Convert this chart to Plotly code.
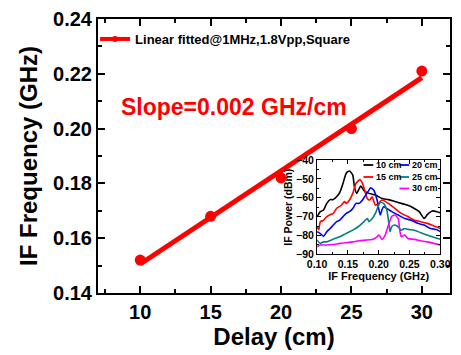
import numpy as np
import plotly.graph_objects as go

# ---------------- main data ----------------
delay_cm = [10, 15, 20, 25, 30]
if_freq_ghz = [0.152, 0.168, 0.182, 0.200, 0.221]
legend_label = "Linear fitted@1MHz,1.8Vpp,Square"
slope_text = "Slope=0.002 GHz/cm"

main_xticks = [10, 15, 20, 25, 30]
main_yticks = [0.14, 0.16, 0.18, 0.20, 0.22, 0.24]

# ---------------- inset data (IF spectra) ----------------
f_10 = [0.100, 0.1053, 0.1105, 0.1158, 0.1211, 0.1263, 0.1316, 0.1368, 0.1421, 0.1474, 0.1526,
        0.1579, 0.1605, 0.1642, 0.1710, 0.1763, 0.1842, 0.1947, 0.2053, 0.2158, 0.2263, 0.2368,
        0.2474, 0.2579, 0.2658, 0.2737, 0.2789, 0.2868, 0.2947, 0.300]
p_10 = [-70.0, -67.4, -66.5, -63.0, -61.0, -61.0, -59.5, -57.3, -52.4, -47.0, -45.8,
        -48.0, -54.0, -57.7, -53.8, -56.3, -57.7, -58.6, -60.4, -61.0, -62.0, -63.0,
        -64.0, -65.7, -67.4, -71.0, -69.0, -67.0, -67.4, -68.0]

f_15 = [0.100, 0.1026, 0.1053, 0.1105, 0.1158, 0.1211, 0.1263, 0.1316, 0.1395, 0.1447, 0.1474,
        0.1526, 0.1579, 0.1632, 0.1684, 0.1695, 0.1737, 0.1779, 0.1816, 0.1853, 0.1895, 0.1921,
        0.1947, 0.2000, 0.2053, 0.2158, 0.2263, 0.2368, 0.2474, 0.2579, 0.2684, 0.2789, 0.2895, 0.300]
p_15 = [-75.4, -77.0, -72.7, -72.0, -70.0, -69.0, -68.3, -65.7, -64.0, -62.0, -63.0,
        -61.2, -57.7, -52.4, -50.6, -50.3, -52.4, -56.8, -60.4, -61.2, -59.5, -62.0,
        -64.0, -63.0, -61.2, -63.0, -65.7, -68.3, -70.0, -72.0, -72.7, -73.6, -75.0, -76.3]

f_20 = [0.100, 0.1053, 0.1105, 0.1158, 0.1211, 0.1263, 0.1316, 0.1368, 0.1421, 0.1474, 0.1526,
        0.1579, 0.1632, 0.1684, 0.1737, 0.1789, 0.1842, 0.1868, 0.1921, 0.1974, 0.2000, 0.2026,
        0.2053, 0.2079, 0.2132, 0.2211, 0.2316, 0.2421, 0.2526, 0.2632, 0.2737, 0.2842, 0.2947, 0.300]
p_20 = [-78.0, -79.0, -80.4, -78.0, -76.3, -74.5, -72.7, -71.9, -70.0, -68.3, -67.4,
        -65.7, -63.0, -63.0, -61.2, -58.6, -56.0, -54.7, -56.0, -61.2, -65.7, -69.2,
        -66.5, -64.8, -65.7, -67.4, -69.2, -71.0, -71.9, -73.6, -74.5, -76.3, -77.0, -78.0]

f_25 = [0.100, 0.1053, 0.1105, 0.1158, 0.1263, 0.1368, 0.1474, 0.1579, 0.1684, 0.1763, 0.1816,
        0.1842, 0.1895, 0.1947, 0.2000, 0.2026, 0.2079, 0.2132, 0.2158, 0.2184, 0.2211, 0.2263,
        0.2316, 0.2368, 0.2421, 0.2474, 0.2579, 0.2684, 0.2789, 0.2895, 0.300]
p_25 = [-82.5, -84.2, -83.4, -83.4, -82.0, -80.7, -78.9, -77.2, -75.0, -72.7, -71.0,
        -72.7, -71.0, -68.3, -63.9, -62.5, -63.0, -66.5, -71.9, -78.0, -75.4, -74.5,
        -75.4, -77.2, -76.3, -76.8, -77.2, -78.6, -79.8, -81.0, -82.0]

f_30 = [0.100, 0.1053, 0.1158, 0.1263, 0.1368, 0.1474, 0.1579, 0.1684, 0.1789, 0.1895, 0.1974,
        0.2000, 0.2026, 0.2053, 0.2105, 0.2158, 0.2211, 0.2263, 0.2316, 0.2342, 0.2368, 0.2421,
        0.2474, 0.2579, 0.2684, 0.2789, 0.2895, 0.300]
p_30 = [-86.0, -85.1, -85.1, -84.8, -84.2, -83.9, -83.4, -82.8, -82.5, -82.1, -80.7,
        -79.8, -80.7, -82.1, -79.8, -74.5, -70.0, -69.2, -71.0, -77.2, -80.7, -79.8,
        -81.6, -82.1, -82.8, -83.4, -84.2, -85.1]

inset_names = ["10 cm", "15 cm", "20 cm", "25 cm", "30 cm"]
inset_colors = ["#000000", "#ff0000", "#0000ff", "#008080", "#ff00ff"]
inset_f = [f_10, f_15, f_20, f_25, f_30]
inset_p = [p_10, p_15, p_20, p_25, p_30]
inset_xticks = [0.10, 0.15, 0.20, 0.25, 0.30]
inset_yticks = [-90, -80, -70, -60, -50, -40]

FONT = "Arial, 'Liberation Sans', Helvetica, sans-serif"
RED = "#ff0000"

# linear fit of the measured points
coef = np.polyfit(delay_cm, if_freq_ghz, 1)
fit_x = [delay_cm[0], delay_cm[-1]]
fit_y = list(np.polyval(coef, fit_x))

fig = go.Figure()

fig.add_trace(go.Scatter(x=fit_x, y=fit_y, mode="lines",
                         line=dict(color=RED, width=5), showlegend=False,
                         xaxis="x", yaxis="y"))
fig.add_trace(go.Scatter(x=delay_cm, y=if_freq_ghz, mode="markers",
                         marker=dict(color=RED, size=11, symbol="circle"),
                         showlegend=False, xaxis="x", yaxis="y"))
# legend entry
fig.add_trace(go.Scatter(x=[None], y=[None], mode="lines+markers", name=legend_label,
                         line=dict(color=RED, width=4),
                         marker=dict(color=RED, size=6), xaxis="x", yaxis="y"))

for name, col, fx, py in zip(inset_names, inset_colors, inset_f, inset_p):
    fig.add_trace(go.Scatter(x=fx, y=py, mode="lines", name=name,
                             line=dict(color=col, width=1.6, shape="spline", smoothing=0.6),
                             showlegend=False, xaxis="x2", yaxis="y2"))

L, R, T, B = 98, 1, 19, 62
W, H = 461, 355
pw, ph = W - L - R, H - T - B

def px(xp):
    return (xp - L) / pw

def py_(yp):
    return (H - B - yp) / ph

ix0, ix1, iy0, iy1 = 323.3, 450, 160, 254.3

axis_common = dict(showgrid=False, zeroline=False, showline=True, linecolor="black",
                   mirror="allticks", ticks="inside", tickcolor="black")

fig.update_layout(
    width=W, height=H,
    margin=dict(l=L, r=R, t=T, b=B, pad=0),
    paper_bgcolor="white", plot_bgcolor="white",
    font=dict(family=FONT, color="black"),
    xaxis=dict(domain=[0, 1], range=[7, 32], tickvals=main_xticks,
               linewidth=2, tickwidth=2, ticklen=7,
               minor=dict(dtick=2.5, tick0=0, ticks="inside", ticklen=4, tickwidth=2, tickcolor="black"),
               tickfont=dict(size=20, weight="bold"),
               title=dict(text="Delay (cm)", font=dict(size=24, weight="bold"), standoff=4),
               **axis_common),
    yaxis=dict(domain=[0, 1], range=[0.14, 0.24], tickvals=main_yticks, tickformat=".2f",
               linewidth=2, tickwidth=2, ticklen=7,
               minor=dict(dtick=0.01, tick0=0, ticks="inside", ticklen=4, tickwidth=2, tickcolor="black"),
               tickfont=dict(size=20, weight="bold"),
               title=dict(text="IF Frequency (GHz)", font=dict(size=24, weight="bold"), standoff=9),
               **axis_common),
    xaxis2=dict(domain=[px(ix0), px(ix1)], anchor="y2", range=[0.10, 0.30],
                tickvals=inset_xticks, tickformat=".2f",
                linewidth=1.2, tickwidth=1.2, ticklen=4,
                minor=dict(dtick=0.025, tick0=0, ticks="inside", ticklen=2, tickwidth=1, tickcolor="black"),
                tickfont=dict(size=10.5, weight="bold"),
                title=dict(text="IF Frequency (GHz)", font=dict(size=11, weight="bold"), standoff=1),
                **axis_common),
    yaxis2=dict(domain=[py_(iy1), py_(iy0)], anchor="x2", range=[-90, -40],
                tickvals=inset_yticks,
                linewidth=1.2, tickwidth=1.2, ticklen=4,
                minor=dict(dtick=5, tick0=0, ticks="inside", ticklen=2, tickwidth=1, tickcolor="black"),
                tickfont=dict(size=10.5, weight="bold"),
                title=dict(text="IF Power (dBm)", font=dict(size=10.5, weight="bold"), standoff=1),
                **axis_common),
    legend=dict(x=px(95), y=py_(24), xanchor="left", yanchor="top",
                bgcolor="rgba(0,0,0,0)", borderwidth=0,
                font=dict(size=13, weight="bold", family=FONT),
                itemwidth=30, tracegroupgap=0),
)

fig.add_annotation(text=slope_text, x=px(120), y=py_(107), xref="paper", yref="paper",
                   xanchor="left", yanchor="middle", showarrow=False,
                   font=dict(size=23, color=RED, weight="bold", family=FONT))

# inset legend (two columns)
leg_pos = [(371, 165), (371, 177), (408, 165), (408, 177), (408, 188.5)]
for (lx, ly), name, col in zip(leg_pos, inset_names, inset_colors):
    fig.add_shape(type="line", xref="paper", yref="paper",
                  x0=px(lx), x1=px(lx + 10), y0=py_(ly), y1=py_(ly),
                  line=dict(color=col, width=1.8))
    fig.add_annotation(text=name, x=px(lx + 11), y=py_(ly), xref="paper", yref="paper",
                       xanchor="left", yanchor="middle", showarrow=False,
                       font=dict(size=9, weight="bold", family=FONT))

fig.write_html("out.html")
